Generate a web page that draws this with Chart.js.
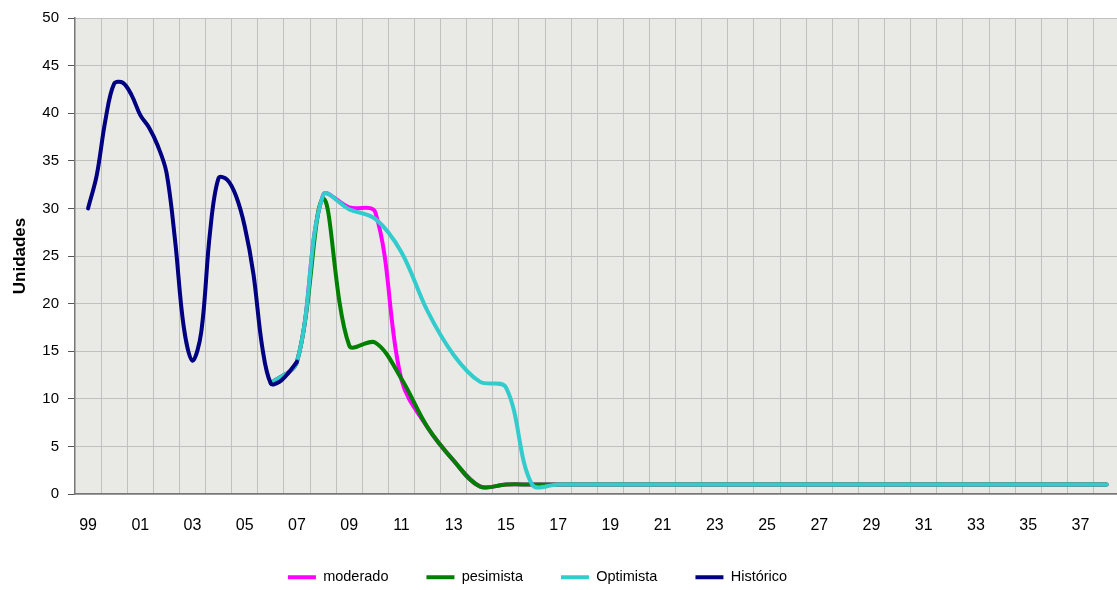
<!DOCTYPE html>
<html>
<head>
<meta charset="utf-8">
<script src="https://cdn.jsdelivr.net/npm/chart.js@4.4.1/dist/chart.umd.min.js"></script>
<style>
  html, body { margin: 0; padding: 0; background: #fff; }
</style>
</head>
<body>
<canvas id="grafico" width="1117" height="590"></canvas>
<script>
// etiquetas del eje x, un año por categoría (1999 - 2038)
const anios = ['99','00','01','02','03','04','05','06','07','08','09','10','11','12','13','14','15','16','17','18',
               '19','20','21','22','23','24','25','26','27','28','29','30','31','32','33','34','35','36','37','38'];
const primerAnio = 1999;

// histórico: tres datos por año (cada 4 meses) desde 1999 hasta 2007
const historico = [30.0, 33.5, 39.3, 43.1, 43.2, 41.9, 39.8, 38.5, 36.6, 33.8, 26.6, 17.5, 14.0,
                   17.0, 27.4, 33.2, 33.0, 31.3, 28.1, 23.1, 15.5, 11.6, 11.8, 12.7, 13.9];

// proyecciones anuales desde 2006 hasta 2038
const inicioProyeccion = 2006;
const moderado  = [11.6, 13.9, 31.4, 30.1, 29.6, 12.0, 7.0, 3.5, 0.8, 1.0, 1.0, 1.0, 1.0, 1.0, 1.0, 1.0, 1.0,
                   1.0, 1.0, 1.0, 1.0, 1.0, 1.0, 1.0, 1.0, 1.0, 1.0, 1.0, 1.0, 1.0, 1.0, 1.0, 1.0];
const pesimista = [11.6, 13.9, 31.0, 15.6, 15.9, 12.1, 7.0, 3.5, 0.8, 1.0, 1.0, 1.0, 1.0, 1.0, 1.0, 1.0, 1.0,
                   1.0, 1.0, 1.0, 1.0, 1.0, 1.0, 1.0, 1.0, 1.0, 1.0, 1.0, 1.0, 1.0, 1.0, 1.0, 1.0];
const optimista = [11.6, 13.9, 31.4, 29.9, 28.9, 25.4, 19.2, 14.6, 11.8, 11.2, 1.0, 1.0, 1.0, 1.0, 1.0, 1.0, 1.0,
                   1.0, 1.0, 1.0, 1.0, 1.0, 1.0, 1.0, 1.0, 1.0, 1.0, 1.0, 1.0, 1.0, 1.0, 1.0, 1.0];

const puntosHist = historico.map((v, k) => ({ x: primerAnio + k / 3, y: v }));
const puntosProy = (serie) => serie.map((v, i) => ({ x: inicioProyeccion + i, y: v }));

Chart.defaults.font.family = "'Liberation Sans', Arial, sans-serif";
Chart.defaults.color = '#000';

// fondo gris del area de trazado
const fondo = {
  id: 'fondo',
  beforeDraw(chart) {
    const { ctx, chartArea: a } = chart;
    ctx.save();
    ctx.fillStyle = '#e9e9e6';
    ctx.fillRect(a.left, a.top, a.right - a.left, a.bottom - a.top);
    ctx.restore();
  }
};

// alto fijo de la leyenda (el padding de las etiquetas solo separa los items)
const altoLeyenda = {
  id: 'altoLeyenda',
  beforeLayout(chart) {
    const lg = chart.legend;
    if (!lg || lg._ajustada) return;
    const fitOriginal = lg.fit.bind(lg);
    lg.fit = function () {
      fitOriginal();
      this.height = 58;
      if (this.lineWidths && this.lineWidths.length) this.lineWidths[0] += 42;
    };
    lg._ajustada = true;
  }
};

const linea = (label, data, color, orden) => ({
  label: label,
  data: data,
  borderColor: color,
  backgroundColor: color,
  borderWidth: 4,
  pointRadius: 0,
  tension: 0.35,
  fill: false,
  borderCapStyle: 'round',
  borderJoinStyle: 'round',
  order: orden
});

new Chart(document.getElementById('grafico'), {
  type: 'line',
  data: {
    datasets: [
      linea('moderado', puntosProy(moderado), '#ff00ff', 4),
      linea('pesimista', puntosProy(pesimista), '#008000', 3),
      linea('Optimista', puntosProy(optimista), '#33cccc', 2),
      linea('Histórico', puntosHist, '#000080', 1)
    ]
  },
  options: {
    responsive: false,
    animation: false,
    layout: { padding: { top: 16, right: 0, bottom: 0, left: 0 } },
    plugins: {
      tooltip: { enabled: false },
      legend: {
        position: 'bottom',
        labels: {
          usePointStyle: true,
          pointStyle: 'line',
          pointStyleWidth: 28,
          padding: 38,
          font: { size: 14.5 },
          color: '#000',
          sort: (a, b) => a.datasetIndex - b.datasetIndex
        }
      }
    },
    scales: {
      x: {
        type: 'linear',
        min: primerAnio - 0.5,
        max: primerAnio + 39.4,
        afterBuildTicks: (eje) => {
          const t = [];
          for (let i = 0; i < anios.length; i++) {
            if (i % 2 === 0) t.push({ value: primerAnio + i });
            if (primerAnio + i + 0.5 < eje.max) t.push({ value: primerAnio + i + 0.5 });
          }
          eje.ticks = t;
        },
        afterFit: (eje) => { eje.height = 38; },
        ticks: {
          autoSkip: false,
          maxRotation: 0,
          padding: 22,
          font: { size: 16 },
          callback: (v) => Number.isInteger(v) ? anios[v - primerAnio] : ''
        },
        grid: {
          drawTicks: false,
          color: (c) => (c.tick && Number.isInteger(c.tick.value)) ? 'rgba(0,0,0,0)' : '#c0c0c0'
        },
        border: { color: '#777', width: 1.5 }
      },
      y: {
        min: 0,
        max: 50,
        afterFit: (eje) => { eje.width = 75; },
        ticks: { stepSize: 5, padding: 9, font: { size: 15 } },
        grid: { color: '#c0c0c0', tickLength: 7, tickColor: '#555' },
        border: { color: '#777', width: 1.5 },
        title: {
          display: true,
          text: 'Unidades',
          font: { size: 17, weight: 'bold' },
          padding: { top: 10, bottom: 0 }
        }
      }
    }
  },
  plugins: [fondo, altoLeyenda]
});
</script>
</body>
</html>
